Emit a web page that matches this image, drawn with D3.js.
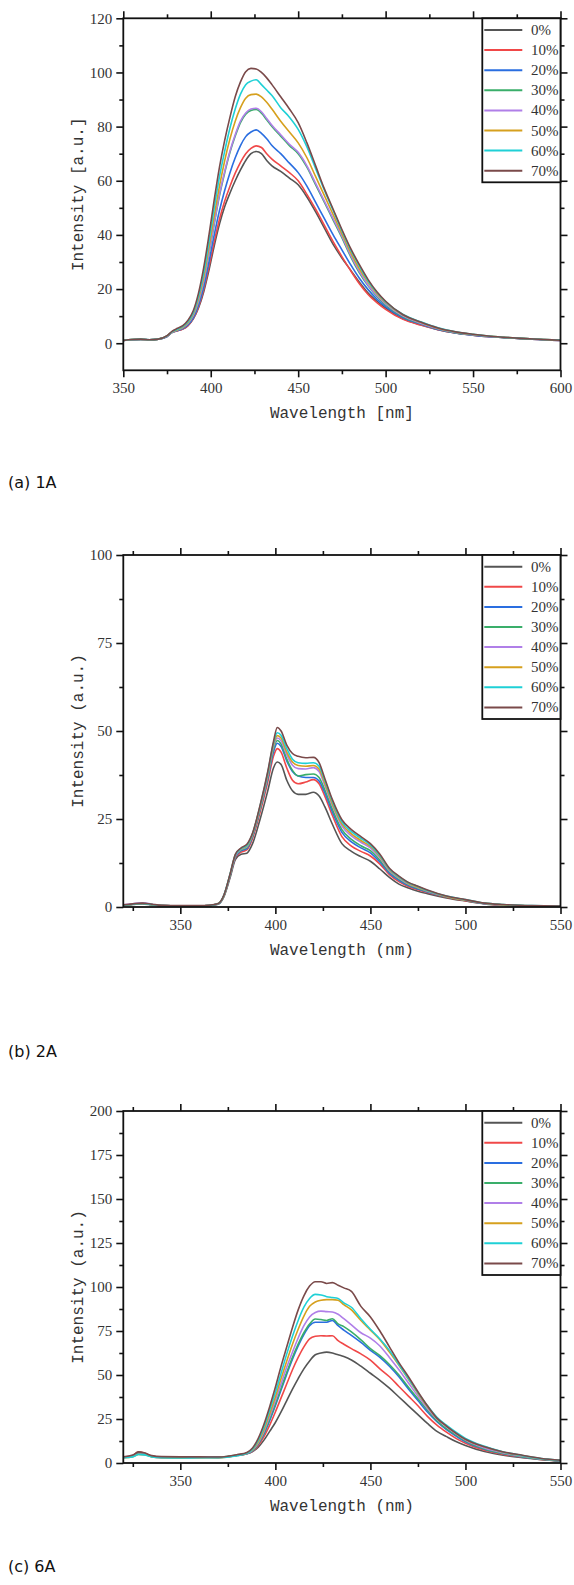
<!DOCTYPE html>
<html>
<head>
  <script src="https://d3js.org/d3.v7.min.js"></script>
  <style>
    html, body {
      margin: 0px;
      padding: 0px;
      background: #fff;
    }
    .tick text {
      font-family: "Liberation Serif", serif;
      font-size: 15px;
      fill: #333;
    }
    .axisTitle {
      font-family: "Liberation Mono", monospace;
      font-size: 16px;
      fill: #333;
    }
    .legendText {
      font-family: "Liberation Serif", serif;
      font-size: 15px;
      fill: #333;
    }
    .caption {
      font-family: "DejaVu Sans", sans-serif;
      font-size: 16px;
      fill: #111;
    }
  </style>
</head>
<body>
  <div id="chart"></div>
  <script>

      // legend entries (same for the three panels)
      const labels = ["0%", "10%", "20%", "30%", "40%", "50%", "60%", "70%"];
      const colors = ["#555555", "#f04848", "#2a6ee0", "#3aae6a", "#b07fe8", "#d6a01e", "#1fd0d6", "#7a4a4a"];

      /*
      PANEL (a) 1A
      */
      const wl1 = [350,355,360,365,370,375,378,381,384,387,390,393,396,399,402,405,408,411,414,417,420,423,426,429,432,435,440,445,450,455,460,465,470,475,480,485,490,495,500,510,520,530,540,550,560,570,580,590,600];
      const a0  = [1.0,1.3,1.4,1.3,1.5, 2.5,4.0,4.6,5.2,6.5, 9.0,13,19,27,36, 44,50.5,55.5,60,64, 67.5,70,70.8,70,67.5, 65.5,63.5,61,58.5,54, 48.5,42.5,36.5,31.5,27, 22.5,18.5,15.5,13,9, 6.8,5,3.8,3.0,2.4, 2.0,1.6,1.3,1.0];
      const a10 = [1.1,1.3,1.4,1.2,1.5, 2.5,4.0,4.6,5.2,6.6, 9.1,13.4,19.8,28.3,37.5, 45.8,52.5,58,62.8,66.8, 70,72,72.9,72.3,70, 68,65.5,63,60,55, 49.5,43.5,37.5,32,26.8, 22,18,15,12.5,8.8, 6.7,5,3.8,3.0,2.4, 2.0,1.6,1.3,1.0];
      const a20 = [1.0,1.3,1.4,1.3,1.5, 2.5,4.0,4.7,5.4,6.8, 9.4,14,20.8,30,40, 49,56.5,63,68.5,73, 76.3,78,78.8,77.5,75.5, 73,70,66.5,63,58, 52,46,40,34.5,29, 24,19.8,16.3,13.5,9.4, 7.1,5.1,3.8,3.0,2.4, 2.0,1.6,1.3,1.0];
      const a30 = [1.0,1.4,1.4,1.3,1.5, 2.6,4.1,4.9,5.7,7.3, 10.1,15.2,22.6,33,44, 54.5,63,70.5,76.5,81.5, 84.6,86,86.3,85,82.5, 80,76.5,73,70,65, 58.5,52,45.5,39,32, 26,21.2,17.3,14.2,9.8, 7.3,5.3,3.9,3.1,2.5, 2.0,1.7,1.4,1.1];
      const a40 = [1.0,1.4,1.5,1.3,1.5, 2.6,4.1,4.9,5.8,7.4, 10.3,15.5,23,33.5,44.5, 55,63.5,71,77,82, 85,86.5,86.8,85.5,83, 80.5,77,73.5,70.5,65.5, 59,52.5,46,39.5,32.5, 26.5,21.5,17.6,14.5,10, 7.4,5.4,4.0,3.1,2.5, 2.1,1.7,1.4,1.1];
      const a50 = [1.0,1.4,1.5,1.3,1.5, 2.7,4.2,5.0,6.0,7.7, 10.8,16.5,24.5,35.5,47, 58,67.5,75.5,82,87, 90.5,91.8,92,91,89, 86.5,82,78,74,68.5, 61.5,54.5,47.5,40.5,33.5, 27.5,22.5,18.3,15,10.4, 7.7,5.5,4.1,3.2,2.6, 2.1,1.7,1.4,1.1];
      const a60 = [1.0,1.4,1.5,1.3,1.5, 2.7,4.3,5.2,6.2,8.0, 11.3,17.3,26,37.5,50, 61.5,71,79.5,86.5,92, 95.5,96.8,97.3,95.5,93.5, 91.5,87,83.5,79,72.5, 64.5,56.5,49,41.5,34.5, 28.5,23,18.7,15.3,10.6, 7.9,5.7,4.2,3.3,2.6, 2.1,1.7,1.4,1.2];
      const a70 = [1.0,1.4,1.5,1.3,1.5, 2.8,4.5,5.5,6.5,8.5, 12,18.5,28,40,53, 65,75,83.5,91,96.5, 100.3,101.5,101.3,100,98, 95.5,91,86.5,81.5,74, 65.5,57,49.5,42,35, 29,23.5,19,15.5,10.5, 7.8,5.6,4.2,3.3,2.6, 2.1,1.7,1.4,1.1];

      /*
      PANEL (b) 2A
      */
      const wl2 = [320,325,330,335,340,350,360,365,370,373,376,379,382,385,388,392,396,399,401,403,406,409,412,416,420,423,426,430,435,440,445,450,455,460,465,470,475,480,490,500,510,520,535,550];
      const b0  = [0.5,0.7,0.9,0.6,0.4, 0.3,0.3,0.4,0.8,3.0, 8,13.5,15,15.3,18, 25,33,39.5,41.2,40.5, 36,33,32,32,32.6, 31.5,28.5,23.5,18,15.8, 14.3,13,10.8,8.4,6.5, 5.4,4.5,3.8,2.6,1.7, 0.9,0.5,0.3,0.2];
      const b10 = [0.5,0.8,1.0,0.7,0.4, 0.3,0.3,0.4,0.9,3.2, 8.5,14,15.6,16.2,19.5, 27,35.5,42.8,45,44, 39.5,36,35,35.5,36.2, 35,31.5,26,20,17.3, 15.8,14.5,12.2,9.2,7.2, 5.8,4.9,4.1,2.8,1.8, 1.0,0.5,0.3,0.2];
      const b20 = [0.5,0.8,1.0,0.7,0.4, 0.3,0.3,0.4,0.9,3.3, 8.6,14.3,16,16.6,20, 27.8,36.5,44,46.5,45.6, 41.5,38.5,37.2,36.8,36.8, 35.8,32.5,27,21.2,18.5, 16.8,15.4,12.8,9.6,7.6, 6.1,5.1,4.3,2.9,1.9, 1.0,0.6,0.3,0.2];
      const b30 = [0.5,0.8,1.1,0.7,0.4, 0.3,0.3,0.4,0.9,3.3, 8.7,14.5,16.2,16.9,20.3, 28,37,44.8,47.3,46.3, 42,38.8,37.2,37.6,37.8, 36.8,33.3,27.8,22,19.2, 17.4,16,13.3,10,7.9, 6.3,5.3,4.4,2.9,1.9, 1.0,0.6,0.3,0.2];
      const b40 = [0.6,0.9,1.2,0.8,0.4, 0.3,0.3,0.4,0.9,3.4, 8.8,14.6,16.4,17.1,20.5, 28.3,37.4,45.5,48,47.2, 43.2,40.3,39.3,39.2,39.6, 38.5,34.5,28.8,23,20.2, 18.4,16.8,13.9,10.3,8.2, 6.5,5.5,4.5,3.0,2.0, 1.0,0.6,0.3,0.2];
      const b50 = [0.5,0.8,1.0,0.7,0.4, 0.3,0.3,0.4,1.0,3.4, 8.9,14.8,16.5,17.3,20.7, 28.6,37.8,46,48.7,48, 44,41.2,40.2,40,40.2, 39.2,35.2,29.3,23.6,20.8, 18.9,17.2,14.3,10.6,8.4, 6.7,5.6,4.6,3.0,2.0, 1.1,0.6,0.3,0.2];
      const b60 = [0.5,0.8,1.0,0.7,0.4, 0.3,0.3,0.4,1.0,3.5, 9,14.9,16.6,17.5,20.9, 28.8,38.2,46.5,49.5,48.8, 45,42,41,40.8,41, 40,36,30,24.2,21.4, 19.5,17.6,14.6,10.8,8.6, 6.9,5.8,4.7,3.1,2.1, 1.1,0.7,0.4,0.3];
      const b70 = [0.6,0.9,1.1,0.8,0.5, 0.4,0.4,0.5,1.0,3.5, 9,15,16.8,17.8,21, 29,38.5,47,51,50, 46,43.6,42.8,42.4,42.5, 41,36.5,30.5,24.8,22, 20,18,15,11,8.8, 7,5.9,4.8,3.1,2.1, 1.1,0.7,0.4,0.3];

      /*
      PANEL (c) 6A
      */
      const wl3 = [320,325,328,331,335,340,350,360,370,380,385,388,391,394,397,400,403,406,409,412,415,418,421,424,427,430,433,436,440,445,450,455,460,465,470,475,480,485,490,495,500,510,520,530,540,550];
      const c0  = [3.2,4.0,5.5,5.2,3.8, 3.3,3.2,3.3,3.2,4.3, 5.2,6.5,9,13,18, 23,29,35.5,42,48, 53.5,58,61.5,62.5,63, 62.5,61.5,60.5,58.5,55, 51,47,42.5,37.5,32.5, 27.5,22.5,18,15,12.2, 10,6.5,4.4,3.0,1.9, 1.2];
      const c10 = [3.4,4.3,6.3,5.6,4.0, 3.4,3.3,3.3,3.2,4.4, 5.3,6.6,10,15,21.5, 29,37,45,53,60, 66,70.5,72,72.3,72.2, 72.3,69.5,67.5,65,62, 58.5,53.5,49,43.5,38, 32.5,26.5,21.5,17.5,14, 11.2,7.2,4.9,3.3,2.0, 1.2];
      const c20 = [3.3,4.1,5.6,5.3,3.8, 3.2,3.1,3.2,3.2,4.4, 5.4,6.9,10.7,16.5,24, 32.5,41.5,50.5,59,66.5, 73,78,80,80,80, 81,78,75.5,72.5,68.5, 64,60,55,49,42, 35.5,29,23.5,19,15.3, 12,7.8,5.3,3.5,2.2, 1.3];
      const c30 = [3.2,4.0,5.5,5.2,3.7, 3.2,3.1,3.2,3.3,4.5, 5.5,7,11,17,25, 33.5,42.5,51.5,60,67.5, 74,79,81.8,81.5,81, 82,79,77.5,74.5,70, 65,61,56,50,43, 36.5,30,24,19.5,15.8, 12.5,8,5.4,3.6,2.2, 1.3];
      const c40 = [3.0,3.8,5.0,4.9,3.6, 3.0,3.0,3.1,3.1,4.5, 5.6,7.3,11.5,18,26.5, 35.5,45,54.5,63,71, 78,83,85.5,86.3,86, 85.8,84.5,82,78.5,74, 71,66.5,60,53,45.5, 38,31,25,20.5,16.5, 13,8.5,5.7,3.8,2.3, 1.4];
      const c50 = [3.0,3.6,4.8,4.7,3.5, 3.0,2.9,3.0,3.0,4.4, 5.6,7.6,12,19,28, 37.5,48,58,67.5,76, 83.5,89,91.5,92.5,92.8, 92.8,92.5,90,87,81, 75.5,70,63,55.5,47.5, 39.5,32,25.5,21,17, 13.5,9.2,6.1,4.1,2.4, 1.4];
      const c60 = [3.0,3.5,4.8,4.6,3.5, 3.0,2.8,3.0,3.0,4.2, 5.5,8,13,20.5,30, 40,51,62,72,81, 88.5,93.5,95.8,95.5,94.5, 94,93.5,91,88.5,82, 76,70.5,64,56,48, 40,32.5,26,21.5,17.5, 14,9.5,6.3,4.2,2.5, 1.5];
      const c70 = [3.5,4.5,6.3,5.8,4.2, 3.6,3.5,3.5,3.4,4.8, 6,8.5,14,22,32, 43,55,66,77,87, 95,100.5,103,103,102, 102.5,101,99.5,97.5,89, 83,75,66,57,49, 40.5,32.5,25.5,21,17, 13.5,9.2,6.3,4.4,2.6, 1.6];

      // tick values
      const xTicks1 = [350,400,450,500,550,600];
      const xMinor1 = [375,425,475,525,575];
      const yTicks1 = [0,20,40,60,80,100,120];
      const yMinor1 = [10,30,50,70,90,110];
      const xTicks2 = [350,400,450,500,550];
      const xMinor2 = [325,375,425,475,525];
      const yTicks2 = [0,25,50,75,100];
      const yMinor2 = [12.5,37.5,62.5,87.5];
      const yTicks3 = [0,25,50,75,100,125,150,175,200];
      const yMinor3 = [12.5,37.5,62.5,87.5,112.5,137.5,162.5,187.5];

      /*
      SETTING UP THE SVG CANVAS
      */
      const width = 574;
      const height = 1585;
      const plotLeft = 123.3, plotRight = 560.5, plotH = 352;

      const svg = d3.select("#chart")
        .append("svg")
        .attr("width", width)
        .attr("height", height);

      function drawPanel(p) {
        const top = p.top, bottom = p.top + plotH;

        const xScale = d3.scaleLinear()
          .domain(p.xDomain)
          .range([plotLeft, plotRight]);

        const yScale = d3.scaleLinear()
          .domain(p.yDomain)
          .range([bottom, top]);

        const g = svg.append("g");

        // clip for the curves
        g.append("clipPath")
          .attr("id", "clip" + p.id)
          .append("rect")
            .attr("x", plotLeft)
            .attr("y", top)
            .attr("width", plotRight - plotLeft)
            .attr("height", plotH);

        const line = d3.line()
          .x(function(d) { return xScale(d[0]); })
          .y(function(d) { return yScale(d[1]); })
          .curve(d3.curveMonotoneX);

        g.append("g")
          .attr("clip-path", "url(#clip" + p.id + ")")
          .selectAll("path")
          .data(p.series)
          .enter()
          .append("path")
            .attr("fill", "none")
            .attr("stroke", function(d, i) { return colors[i]; })
            .attr("stroke-width", 1.6)
            .attr("stroke-linejoin", "round")
            .attr("d", function(d) { return line(p.wl.map(function(w, i) { return [w, d[i]]; })); });

        // axes: major + minor ticks on all four sides
        function addAxis(axis, tr, labelled) {
          const a = g.append("g")
            .attr("transform", tr)
            .call(axis);
          a.select(".domain").remove();
          a.selectAll(".tick line").attr("stroke", "#111").attr("stroke-width", 1.6);
          if (!labelled) a.selectAll(".tick text").remove();
          return a;
        }

        const bAx = addAxis(d3.axisBottom(xScale).tickValues(p.xTicks).tickSize(7).tickFormat(d3.format("d")), `translate(0,${bottom})`, true);
        bAx.selectAll(".tick text").attr("y", 12);
        addAxis(d3.axisBottom(xScale).tickValues(p.xMinor).tickSize(4), `translate(0,${bottom})`, false);
        addAxis(d3.axisTop(xScale).tickValues(p.xTicks).tickSize(7), `translate(0,${top})`, false);
        addAxis(d3.axisTop(xScale).tickValues(p.xMinor).tickSize(4), `translate(0,${top})`, false);

        const lAx = addAxis(d3.axisLeft(yScale).tickValues(p.yTicks).tickSize(7).tickFormat(d3.format("d")), `translate(${plotLeft},0)`, true);
        lAx.selectAll(".tick text").attr("x", -11);
        addAxis(d3.axisLeft(yScale).tickValues(p.yMinor).tickSize(4), `translate(${plotLeft},0)`, false);
        addAxis(d3.axisRight(yScale).tickValues(p.yTicks).tickSize(7), `translate(${plotRight},0)`, false);
        addAxis(d3.axisRight(yScale).tickValues(p.yMinor).tickSize(4), `translate(${plotRight},0)`, false);

        // frame
        g.append("rect")
          .attr("x", plotLeft)
          .attr("y", top)
          .attr("width", plotRight - plotLeft)
          .attr("height", plotH)
          .attr("fill", "none")
          .attr("stroke", "#111")
          .attr("stroke-width", 1.8);

        // legend
        const lx = 482.3, lw = plotRight - lx;
        const leg = g.append("g");
        leg.append("rect")
          .attr("x", lx)
          .attr("y", top)
          .attr("width", lw)
          .attr("height", 164)
          .attr("fill", "#fff")
          .attr("stroke", "#111")
          .attr("stroke-width", 1.8);
        const rows = leg.selectAll("g.row")
          .data(labels)
          .enter()
          .append("g")
            .attr("class", "row")
            .attr("transform", function(d, i) { return `translate(0,${top + 11.7 + i * 20.1})`; });
        rows.append("line")
          .attr("x1", lx + 2)
          .attr("x2", lx + 40)
          .attr("stroke", function(d, i) { return colors[i]; })
          .attr("stroke-width", 2);
        rows.append("text")
          .attr("class", "legendText")
          .attr("x", lx + 48.7)
          .attr("y", 5)
          .text(function(d) { return d; });

        // axis titles
        g.append("text")
          .attr("class", "axisTitle")
          .attr("x", (plotLeft + plotRight) / 2)
          .attr("y", bottom + 48)
          .attr("text-anchor", "middle")
          .text(p.xTitle);

        g.append("text")
          .attr("class", "axisTitle")
          .attr("x", -(top + bottom) / 2)
          .attr("y", 83)
          .attr("text-anchor", "middle")
          .attr("transform", "rotate(-90)")
          .text(p.yTitle);

        // caption
        svg.append("text")
          .attr("class", "caption")
          .attr("x", 8)
          .attr("y", p.captionY)
          .text(p.caption);
      }

      drawPanel({
        id: 1, top: 18.3, xDomain: [350, 600], yDomain: [-10, 120],
        wl: wl1, series: [a0, a10, a20, a30, a40, a50, a60, a70],
        xTicks: xTicks1, xMinor: xMinor1, yTicks: yTicks1, yMinor: yMinor1,
        xTitle: "Wavelength [nm]", yTitle: "Intensity [a.u.]",
        caption: "(a) 1A", captionY: 488
      });

      drawPanel({
        id: 2, top: 555, xDomain: [320, 550], yDomain: [0, 100],
        wl: wl2, series: [b0, b10, b20, b30, b40, b50, b60, b70],
        xTicks: xTicks2, xMinor: xMinor2, yTicks: yTicks2, yMinor: yMinor2,
        xTitle: "Wavelength (nm)", yTitle: "Intensity (a.u.)",
        caption: "(b) 2A", captionY: 1057
      });

      drawPanel({
        id: 3, top: 1111, xDomain: [320, 550], yDomain: [0, 200],
        wl: wl3, series: [c0, c10, c20, c30, c40, c50, c60, c70],
        xTicks: xTicks2, xMinor: xMinor2, yTicks: yTicks3, yMinor: yMinor3,
        xTitle: "Wavelength (nm)", yTitle: "Intensity (a.u.)",
        caption: "(c) 6A", captionY: 1572
      });

  </script>
</body>
</html>
